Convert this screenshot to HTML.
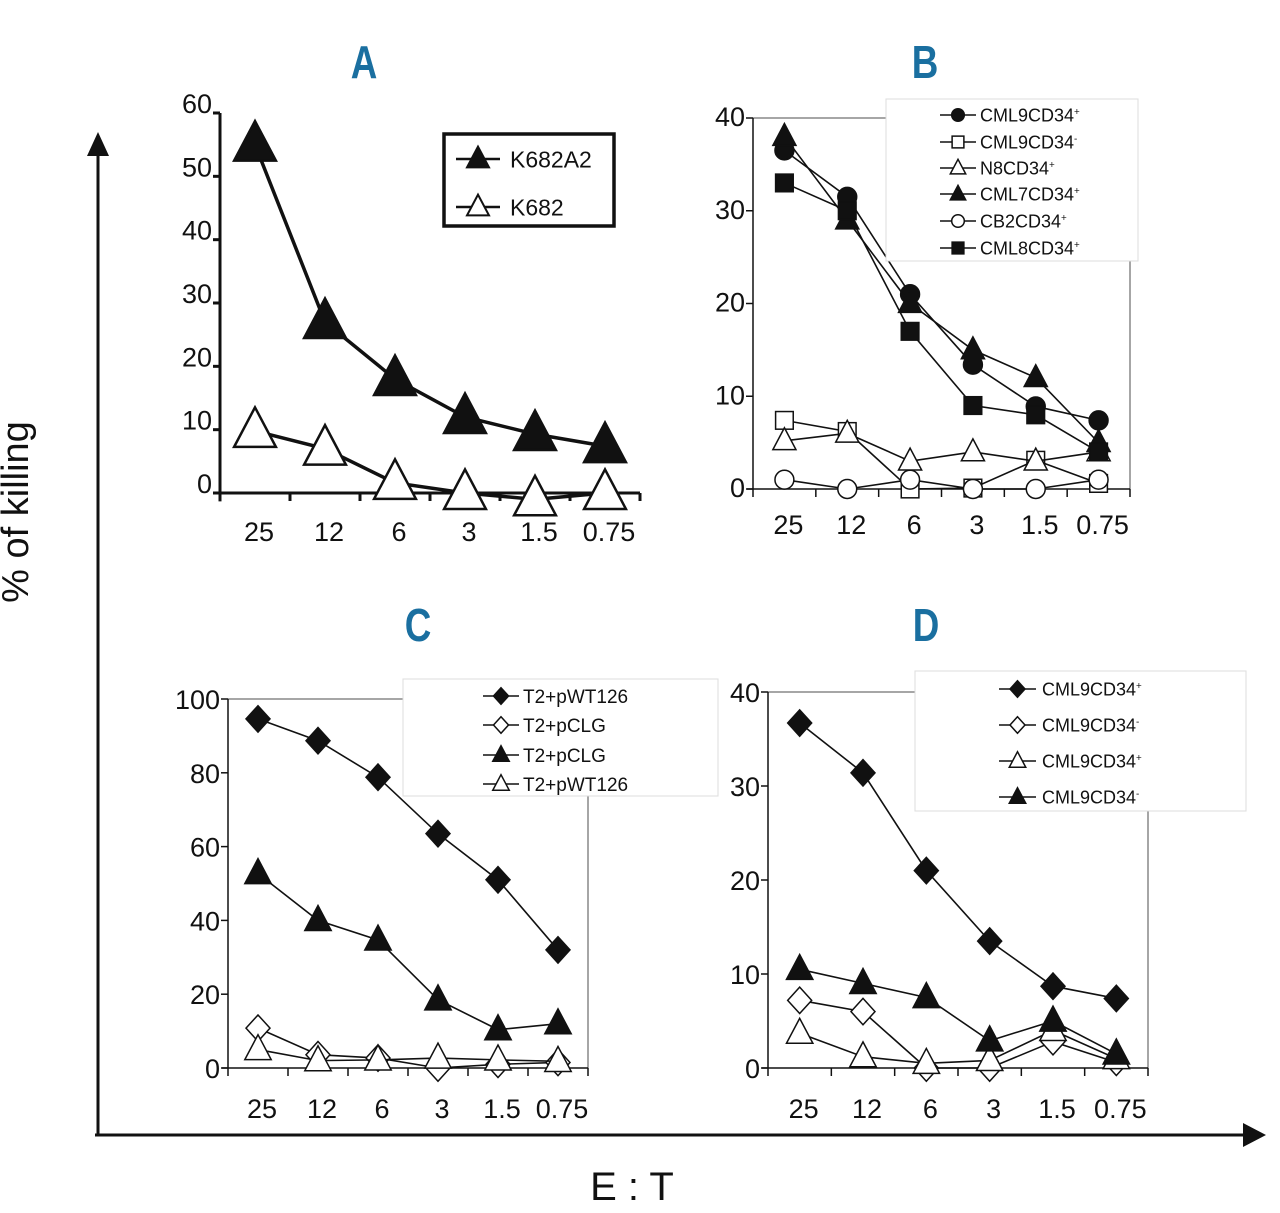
<!DOCTYPE html>
<html><head><meta charset="utf-8"><style>
html,body{margin:0;padding:0;background:#fff;}
svg{display:block;}
text{font-family:"Liberation Sans Narrow","Liberation Sans",sans-serif;fill:#111;}
</style></head><body>
<svg id="fig" width="1280" height="1213" viewBox="0 0 1280 1213" xmlns="http://www.w3.org/2000/svg">
  <g>
    <line x1="98" y1="1135" x2="98" y2="150" stroke="#111" stroke-width="3"/>
    <polygon points="87,156 109,156 98,132" fill="#111"/>
    <line x1="95" y1="1135" x2="1248" y2="1135" stroke="#111" stroke-width="3"/>
    <polygon points="1243,1123 1243,1147 1266,1135" fill="#111"/>
    <text x="28" y="512" font-size="38" text-anchor="middle" transform="rotate(-90 28 512)">% of killing</text>
    <text x="632" y="1200" font-size="40" text-anchor="middle">E : T</text>
  </g>
  <g id="panels"></g>
</svg>
<script>
// ---- data ----
const categories = ["25","12","6","3","1.5","0.75"];

const aTicks = [0,10,20,30,40,50,60];
const aK682A2 = [55, 27, 18, 12, 9.3, 7.4];
const aK682 = [9.8, 7, 1.6, 0, -1, 0];

const bTicks = [0,10,20,30,40];
const bCML9pos = [36.5, 31.5, 21, 13.4, 8.9, 7.4];
const bCML9neg = [7.4, 6.2, 0, 0.1, 3.1, 0.6];
const bN8pos = [5.2, 6, 3, 4, 3, 4];
const bCML7pos = [38, 29, 20, 15, 12, 5];
const bCB2pos = [1, 0, 1, 0, 0, 1];
const bCML8pos = [33, 30, 17, 9, 8, 4];

const cTicks = [0,20,40,60,80,100];
const cWT126fill = [94.6, 88.7, 78.8, 63.5, 51, 32];
const cCLGopen = [10.8, 3.6, 2.7, 0, 1, 1.5];
const cCLGfill = [52.7, 40, 34.7, 18.5, 10.4, 12];
const cWT126open = [5, 2, 2.2, 2.7, 2.2, 1.8];

const dTicks = [0,10,20,30,40];
const dPosFillDia = [36.7, 31.4, 21, 13.5, 8.7, 7.4];
const dNegOpenDia = [7.2, 6, 0, 0, 2.8, 0.6];
const dPosOpenTri = [3.7, 1.2, 0.5, 0.8, 4, 1];
const dNegFillTri = [10.5, 9, 7.5, 2.9, 5, 1.5];

// ---- drawing ----
const NS = "http://www.w3.org/2000/svg";
const root = document.getElementById('panels');
function mk(tag, attrs, parent){
  const e = document.createElementNS(NS, tag);
  for (const k in attrs) e.setAttribute(k, attrs[k]);
  parent.appendChild(e);
  return e;
}
function marker(g, shape, fill, cx, cy, s, sw){
  let e;
  const f = fill ? '#111' : '#fff';
  if (shape === 'tri') {
    e = mk('polygon', {points: `${cx},${cy-s*0.62} ${cx-s*0.55},${cy+s*0.42} ${cx+s*0.55},${cy+s*0.42}`, fill: f, stroke: '#111', 'stroke-width': sw, 'stroke-linejoin':'miter'}, g);
  } else if (shape === 'circ') {
    e = mk('circle', {cx: cx, cy: cy, r: s*0.45, fill: f, stroke: '#111', 'stroke-width': sw}, g);
  } else if (shape === 'sq') {
    e = mk('rect', {x: cx-s*0.42, y: cy-s*0.42, width: s*0.84, height: s*0.84, fill: f, stroke: '#111', 'stroke-width': sw}, g);
  } else {
    e = mk('polygon', {points: `${cx},${cy-s*0.55} ${cx+s*0.5},${cy} ${cx},${cy+s*0.55} ${cx-s*0.5},${cy}`, fill: f, stroke: '#111', 'stroke-width': sw}, g);
  }
  return e;
}

function panel(cfg){
  const g = mk('g', {}, root);
  
  
  const yMax = cfg.ticks[cfg.ticks.length-1];
  const yS = v => cfg.y0 - (v / yMax) * (cfg.y0 - cfg.yTop);
  const band = (cfg.xR - cfg.xL) / categories.length;
  const xS = i => cfg.xL + band * (i + 0.5);

  const title = mk('text', {x: cfg.titleX, y: cfg.titleY, 'font-size': 46, 'font-weight': 'bold', 'text-anchor': 'middle', style: 'fill:#1a6fa0', transform: `translate(${cfg.titleX} 0) scale(0.8 1) translate(${-cfg.titleX} 0)`}, g);
  title.textContent = cfg.title;
  
  

  // frame lines
  if (cfg.frame) {
    const fr = mk('polyline', {points: `${cfg.xL},${cfg.yTop} ${cfg.frameTopEnd},${cfg.yTop}`, fill: 'none', stroke: '#888', 'stroke-width': 1.5}, g);
    
    
    const fr2 = mk('line', {x1: cfg.xR, y1: cfg.frameRightTop, x2: cfg.xR, y2: cfg.y0, stroke: '#888', 'stroke-width': 1.5}, g);
    
    
  }
  const aw = cfg.axisW;
  const ya = mk('line', {x1: cfg.xL, y1: cfg.yTop, x2: cfg.xL, y2: cfg.y0 + (cfg.thick ? 50/6 : 8), stroke: '#111', 'stroke-width': aw}, g);
  
  
  const xa = mk('line', {x1: cfg.xL - 6, y1: cfg.y0, x2: cfg.xR, y2: cfg.y0, stroke: '#111', 'stroke-width': aw}, g);
  
  

  cfg.ticks.forEach(t => {
    const y = yS(t);
    const tk = mk('line', {x1: cfg.xL - 7, y1: y, x2: cfg.xL, y2: y, stroke: '#111', 'stroke-width': aw}, g);
    
    
    const lb = mk('text', {x: cfg.xL - 8, y: y + cfg.yLabDy, 'font-size': 27, 'text-anchor': 'end'}, g);
    lb.textContent = t;
    
    
  });
  for (let i = 1; i <= categories.length; i++) {
    const x = cfg.xL + band * i;
    const tk = mk('line', {x1: x, y1: cfg.y0, x2: x, y2: cfg.y0 + 8, stroke: '#111', 'stroke-width': aw}, g);
    
    
  }
  categories.forEach((c, i) => {
    const lb = mk('text', {x: xS(i) + 4, y: cfg.y0 + cfg.xLabDy, 'font-size': 27, 'text-anchor': 'middle'}, g);
    lb.textContent = c;
    
    
  });

  cfg.series.forEach(s => {
    const sg = mk('g', {}, g);
    
    
    const pts = s.data.map((v, i) => `${xS(i)},${yS(v)}`).join(' ');
    const ln = mk('polyline', {points: pts, fill: 'none', stroke: '#111', 'stroke-width': cfg.lineW}, sg);
    
    
    s.data.forEach((v, i) => {
      const m = marker(sg, s.shape, s.fill, xS(i), yS(v), cfg.mSize, cfg.mStroke);
      
      
    });
  });

  // legend
  const L = cfg.legend;
  const lg = mk('g', {}, g);
  
  
  const box = mk('rect', {x: L.x, y: L.y, width: L.w, height: L.h, fill: '#fff', stroke: L.thick ? '#111' : '#ddd', 'stroke-width': L.thick ? 3.5 : 1}, lg);
  
  
  cfg.series.forEach((s, i) => {
    const eg = mk('g', {}, lg);
    
    
    const y = L.rowY[i];
    mk('line', {x1: L.lx1, y1: y, x2: L.lx2, y2: y, stroke: '#111', 'stroke-width': L.thick ? 2.5 : 1.5}, eg);
    marker(eg, s.shape, s.fill, (L.lx1 + L.lx2) / 2, y, L.ms, L.thick ? 2 : 1.5);
    const t = mk('text', {x: L.tx, y: y + L.fs * 0.36, 'font-size': L.fs}, eg);
    t.textContent = s.label;
    if (s.sup) {
      const sp = mk('tspan', {'font-size': L.fs * 0.55, dy: -L.fs * 0.35}, t);
      sp.textContent = s.sup;
    }
  });
}

panel({name:'panel-a', title:'A', titleX:364, titleY:78, xL:220, xR:640, y0:493, yTop:113, ticks:aTicks,
  thick:true, axisW:3, lineW:3.5, mSize:38, mStroke:2.5, yLabDy:0, xLabDy:48, frame:false,
  series:[
    {key:'k682a2', label:'K682A2', data:aK682A2, shape:'tri', fill:true},
    {key:'k682', label:'K682', data:aK682, shape:'tri', fill:false}],
  legend:{x:444, y:134, w:170, h:92, thick:true, rowY:[159,207], lx1:456, lx2:500, tx:510, fs:23, ms:20}});

panel({name:'panel-b', title:'B', titleX:925, titleY:78, xL:753, xR:1130, y0:489, yTop:118, ticks:bTicks,
  axisW:1.5, lineW:1.6, mSize:21, mStroke:1.5, yLabDy:8, xLabDy:45, frame:true, frameTopEnd:886, frameRightTop:260,
  series:[
    {key:'cml9-cd34pos', label:'CML9CD34', sup:'+', data:bCML9pos, shape:'circ', fill:true},
    {key:'cml9-cd34neg', label:'CML9CD34', sup:'-', data:bCML9neg, shape:'sq', fill:false},
    {key:'n8-cd34pos', label:'N8CD34', sup:'+', data:bN8pos, shape:'tri', fill:false},
    {key:'cml7-cd34pos', label:'CML7CD34', sup:'+', data:bCML7pos, shape:'tri', fill:true},
    {key:'cb2-cd34pos', label:'CB2CD34', sup:'+', data:bCB2pos, shape:'circ', fill:false},
    {key:'cml8-cd34pos', label:'CML8CD34', sup:'+', data:bCML8pos, shape:'sq', fill:true}],
  legend:{x:886, y:99, w:252, h:162, rowY:[115,142,168,194,221,248], lx1:940, lx2:976, tx:980, fs:18, ms:14}});

panel({name:'panel-c', title:'C', titleX:418, titleY:641, xL:228, xR:588, y0:1068, yTop:699, ticks:cTicks,
  axisW:1.5, lineW:1.6, mSize:24, mStroke:1.5, yLabDy:10, xLabDy:50, frame:true, frameTopEnd:403, frameRightTop:796,
  series:[
    {key:'t2-pwt126-filled', label:'T2+pWT126', data:cWT126fill, shape:'dia', fill:true},
    {key:'t2-pclg-open', label:'T2+pCLG', data:cCLGopen, shape:'dia', fill:false},
    {key:'t2-pclg-filled', label:'T2+pCLG', data:cCLGfill, shape:'tri', fill:true},
    {key:'t2-pwt126-open', label:'T2+pWT126', data:cWT126open, shape:'tri', fill:false}],
  legend:{x:403, y:679, w:315, h:117, rowY:[696,725,755,784], lx1:483, lx2:519, tx:523, fs:19, ms:15}});

panel({name:'panel-d', title:'D', titleX:926, titleY:641, xL:768, xR:1148, y0:1068, yTop:692, ticks:dTicks,
  axisW:1.5, lineW:1.6, mSize:24, mStroke:1.5, yLabDy:10, xLabDy:50, frame:true, frameTopEnd:915, frameRightTop:811,
  series:[
    {key:'cml9-cd34pos-filled', label:'CML9CD34', sup:'+', data:dPosFillDia, shape:'dia', fill:true},
    {key:'cml9-cd34neg-open', label:'CML9CD34', sup:'-', data:dNegOpenDia, shape:'dia', fill:false},
    {key:'cml9-cd34pos-open', label:'CML9CD34', sup:'+', data:dPosOpenTri, shape:'tri', fill:false},
    {key:'cml9-cd34neg-filled', label:'CML9CD34', sup:'-', data:dNegFillTri, shape:'tri', fill:true}],
  legend:{x:915, y:671, w:331, h:140, rowY:[689,725,761,797], lx1:999, lx2:1036, tx:1042, fs:18, ms:15}});
</script>
</body></html>
